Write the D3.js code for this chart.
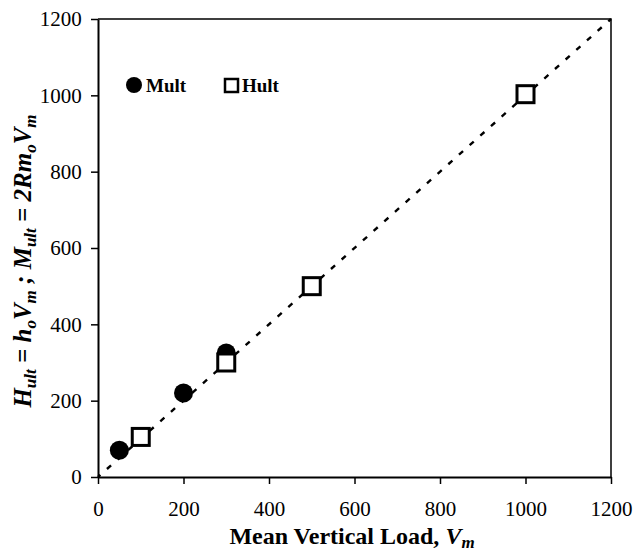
<!DOCTYPE html>
<html>
<head>
<meta charset="utf-8">
<script src="https://cdn.jsdelivr.net/npm/d3@7"></script>
<style>
  body { margin: 0; background: #fff; }
  svg { font-family: "Liberation Serif", "Times New Roman", serif; }
</style>
</head>
<body>
<svg id="chart" width="634" height="554"></svg>
<script>
// data
const multX = [50, 200, 300];
const multY = [70, 220, 325];
const hultX = [100, 300, 500, 1000];
const hultY = [105, 300, 500, 1003];
const tickVals = [0, 200, 400, 600, 800, 1000, 1200];
const lineEnds = [0, 1200];

const margin = { top: 19, right: 23, bottom: 77, left: 98 };
const width = 634 - margin.left - margin.right;
const height = 554 - margin.top - margin.bottom;

const svg = d3.select('#chart');
const g = svg.append('g')
  .attr('transform', `translate(${margin.left},${margin.top})`);

const x = d3.scaleLinear().domain([0, 1200]).range([0, width]);
const y = d3.scaleLinear().domain([0, 1200]).range([height, 0]);

// frame (top + right)
g.append('path')
  .attr('d', `M0,0H${width}V${height}`)
  .attr('fill', 'none')
  .attr('stroke', '#000')
  .attr('stroke-width', 1.5);

const fmt = d3.format('d');
const xAxis = g.append('g')
  .attr('transform', `translate(0,${height})`)
  .call(d3.axisBottom(x).tickValues(tickVals).tickFormat(fmt).tickSize(7).tickSizeOuter(0));
const yAxis = g.append('g')
  .call(d3.axisLeft(y).tickValues(tickVals).tickFormat(fmt).tickSize(7).tickSizeOuter(0));

[xAxis, yAxis].forEach((a) => {
  a.select('.domain').attr('stroke-width', 2);
  a.selectAll('.tick line').attr('stroke-width', 1.5);
  a.selectAll('.tick text')
    .attr('font-family', '"Liberation Serif", serif')
    .attr('font-size', 21)
    .attr('fill', '#000');
});
xAxis.selectAll('.tick text').attr('dy', '1.38em');
yAxis.selectAll('.tick text').attr('dx', '-0.3em');

// 1:1 dashed line
g.append('line')
  .attr('x1', x(lineEnds[0])).attr('y1', y(lineEnds[0]))
  .attr('x2', x(lineEnds[1])).attr('y2', y(lineEnds[1]))
  .attr('stroke', '#000')
  .attr('stroke-width', 2.4)
  .attr('stroke-dasharray', '5.5,8.8')
  .attr('stroke-dashoffset', -12);

// Mult: filled circles
g.selectAll('.mult')
  .data(multX.map((d, i) => [d, multY[i]]))
  .join('circle')
  .attr('class', 'mult')
  .attr('cx', (d) => x(d[0]))
  .attr('cy', (d) => y(d[1]))
  .attr('r', 9.5)
  .attr('fill', '#000');

// Hult: open squares
const sq = 17;
g.selectAll('.hult')
  .data(hultX.map((d, i) => [d, hultY[i]]))
  .join('rect')
  .attr('class', 'hult')
  .attr('x', (d) => x(d[0]) - sq / 2)
  .attr('y', (d) => y(d[1]) - sq / 2)
  .attr('width', sq)
  .attr('height', sq)
  .attr('fill', '#fff')
  .attr('stroke', '#000')
  .attr('stroke-width', 3);

// legend
const legend = svg.append('g');
legend.append('circle')
  .attr('cx', 134).attr('cy', 85).attr('r', 8).attr('fill', '#000');
legend.append('text')
  .attr('x', 146).attr('y', 92)
  .attr('font-size', 19).attr('font-weight', 'bold')
  .text('Mult');
legend.append('rect')
  .attr('x', 225).attr('y', 79).attr('width', 13).attr('height', 13)
  .attr('fill', '#fff').attr('stroke', '#000').attr('stroke-width', 2.5);
legend.append('text')
  .attr('x', 242).attr('y', 92)
  .attr('font-size', 19).attr('font-weight', 'bold')
  .text('Hult');

// x title
const xt = svg.append('text')
  .attr('x', 352)
  .attr('y', 544)
  .attr('text-anchor', 'middle')
  .attr('font-size', 24)
  .attr('font-weight', 'bold');
xt.append('tspan').text('Mean Vertical Load, ');
xt.append('tspan').attr('font-style', 'italic').text('V');
xt.append('tspan').attr('font-style', 'italic').attr('font-size', 17).attr('dy', 4).text('m');

// y title
const yt = svg.append('text')
  .attr('transform', `translate(31,261) rotate(-90)`)
  .attr('text-anchor', 'middle')
  .attr('font-size', 25)
  .attr('font-weight', 'bold')
  .attr('font-style', 'italic');
const parts = [
  ['H', 0], ['ult', 1], [' = h', 0], ['o', 1], ['V', 0], ['m', 1],
  [' ; M', 0], ['ult', 1], [' = 2Rm', 0], ['o', 1], ['V', 0], ['m', 1],
];
let sub = 0;
parts.forEach(([t, s]) => {
  const dy = s === sub ? 0 : (s ? 5 : -5);
  sub = s;
  yt.append('tspan')
    .attr('dy', dy)
    .attr('font-size', s ? 17 : 25)
    .text(t);
});
</script>
</body>
</html>
